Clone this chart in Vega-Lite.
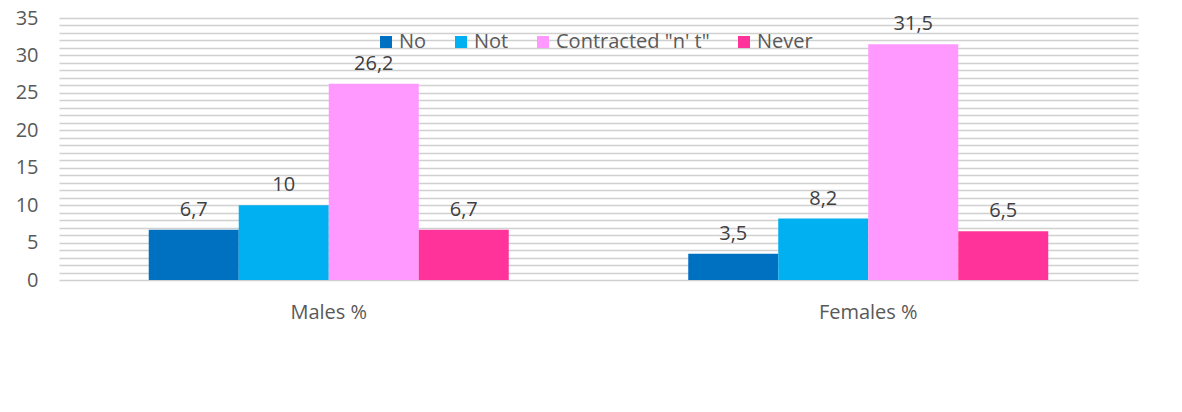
{
  "$schema": "https://vega.github.io/schema/vega-lite/v6.json",
  "width": 1079,
  "height": 262,
  "autosize": {"type": "none"},
  "padding": {"left": 59, "top": 18, "right": 44, "bottom": 132},
  "background": "white",
  "config": {
    "view": {"stroke": null},
    "font": "Open Sans",
    "locale": {"number": {"decimal": ",", "thousands": ".", "grouping": [3], "currency": ["", ""]}}
  },
  "data": {
    "values": [
      {"group": "Males %", "category": "No", "value": 6.7},
      {"group": "Males %", "category": "Not", "value": 10},
      {"group": "Males %", "category": "Contracted \"n' t\"", "value": 26.2},
      {"group": "Males %", "category": "Never", "value": 6.7},
      {"group": "Females %", "category": "No", "value": 3.5},
      {"group": "Females %", "category": "Not", "value": 8.2},
      {"group": "Females %", "category": "Contracted \"n' t\"", "value": 31.5},
      {"group": "Females %", "category": "Never", "value": 6.5}
    ]
  },
  "encoding": {
    "x": {
      "field": "group", "type": "nominal", "sort": ["Males %", "Females %"],
      "scale": {"paddingInner": 0.3327, "paddingOuter": 0.16635},
      "axis": {
        "title": null, "labelAngle": 0, "domain": false, "ticks": false,
        "labelFontSize": 20, "labelColor": "#595959", "labelPadding": 22
      }
    },
    "xOffset": {
      "field": "category", "type": "nominal",
      "sort": ["No", "Not", "Contracted \"n' t\"", "Never"],
      "scale": {"paddingInner": 0, "paddingOuter": 0}
    },
    "y": {
      "field": "value", "type": "quantitative",
      "scale": {"domain": [0, 35], "nice": false},
      "axis": {
        "title": null, "domain": false, "ticks": false,
        "values": [0,1,2,3,4,5,6,7,8,9,10,11,12,13,14,15,16,17,18,19,20,21,22,23,24,25,26,27,28,29,30,31,32,33,34,35],
        "labelExpr": "datum.value % 5 === 0 ? datum.label : ''",
        "labelFontSize": 20, "labelColor": "#595959", "labelPadding": 21,
        "grid": true, "gridColor": "#d0d0d0", "gridWidth": 1.7
      }
    }
  },
  "layer": [
    {
      "mark": {"type": "bar"},
      "encoding": {
        "color": {
          "field": "category", "type": "nominal",
          "sort": ["No", "Not", "Contracted \"n' t\"", "Never"],
          "scale": {
            "domain": ["No", "Not", "Contracted \"n' t\"", "Never"],
            "range": ["#0070C0", "#00B0F0", "#FF99FF", "#FF3399"]
          },
          "legend": {
            "title": null, "orient": "none", "legendX": 317, "legendY": 14,
            "direction": "horizontal", "symbolType": "square", "symbolSize": 144,
            "symbolStrokeWidth": 0, "labelFontSize": 20, "labelColor": "#595959",
            "labelOffset": 3, "columnPadding": 24
          }
        }
      }
    },
    {
      "mark": {"type": "text", "baseline": "alphabetic", "dy": -14, "fontSize": 20, "color": "#404040"},
      "encoding": {
        "text": {"field": "value", "type": "quantitative", "format": ".3~g"}
      }
    }
  ]
}
